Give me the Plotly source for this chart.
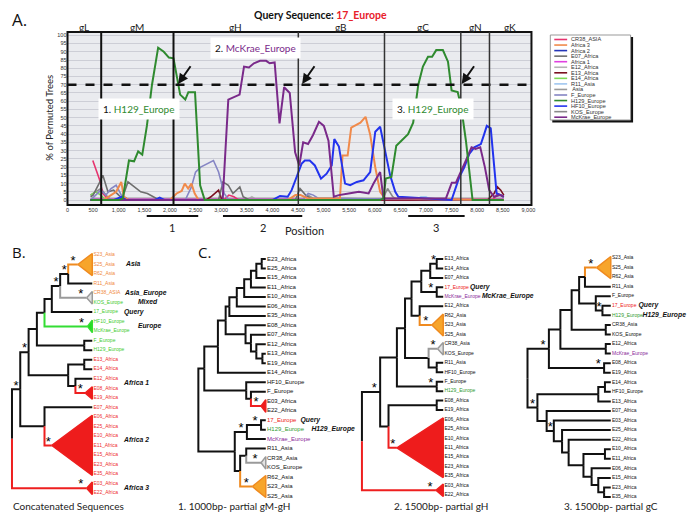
import plotly.graph_objects as go

W, H = 696, 517
OFF = 8  # page body margin that shifts the figure in the browser

# ---------------- panel A: bootscan ----------------
gene_names = ["gL", "gM", "gH", "gB", "gC", "gN", "gK"]
gene_bounds = [658, 2070, 4507, 6190, 7680, 8240]
x_max = 9060
window_spans = [(1547, 2553), (3036, 4584), (6653, 7755)]
window_names = ["1", "2", "3"]
cutoff = 70
arrow_x = [2150, 4570, 7686]

cr38_x = [494, 620, 690, 800, 3050, 3150, 3250, 3350, 8300, 8400, 8520]
cr38_y = [24, 13, 4, 0, 0, 3, 2, 0, 0, 4, 2]
afr3_x = [450, 700, 850, 950, 1050, 1100, 1200, 2000, 2130, 2230, 2290, 2356, 2420, 2484, 2560,
          4300, 4450, 4550, 4700, 5320, 5370, 5470, 5540, 5640, 5720, 5820, 5912, 6009, 6105, 6200, 8520]
afr3_y = [0, 0, 3, 5, 11, 2, 0, 0, 4, 5.5, 10, 7, 10, 4, 0,
          0, 3, 3, 1, 1, 27, 27, 44, 45.5, 47, 50.5, 39.5, 20, 5, 1, 0]
afr2_x = [450, 1000, 1100, 1200, 8520]
afr2_y = [0, 0, 2, 0, 0]
e07_x = [450, 500, 600, 690, 790, 900, 1000, 1070, 1180, 1300, 1430, 1560, 1690, 1790,
         2950, 3036, 3140, 3230, 3365, 3430, 3550, 4450, 4540, 4650, 4750, 8520]
e07_y = [2, 3, 9, 15, 5, 6, 3, 1, 11, 8, 5, 4, 2, 0,
         0, 11, 9, 4, 8, 2, 0, 0, 7, 3, 1, 0]
afr1_x = [450, 8520]
afr1_y = [0.5, 0.5]
e12_x = [450, 3500, 3600, 3700, 8520]
e12_y = [0, 0, 2, 0, 0]
e13_x = [450, 2700, 2800, 2880, 2950, 3015, 8200, 8265, 8330, 8395, 8460, 8520]
e13_y = [0, 0, 2, 4, 6, 0, 0, 2, 4, 8, 6, 3]
e14_x = [450, 550, 650, 750, 8520]
e14_y = [3, 5, 3, 0, 0]
r11_x = [450, 6800, 6900, 7000, 7100, 8520]
r11_y = [0, 0, 2, 2, 0, 0]
asia_x = [450, 4600, 4700, 4800, 8520]
asia_y = [1, 1, 3, 1, 1]
feur_x = [450, 550, 650, 750, 850, 950, 1050, 1150, 2300, 2420, 2500, 2600, 2720, 2850,
          2950, 3060, 3150, 4600, 4700, 4800, 4900, 8520]
feur_y = [0, 3, 6, 3, 7, 9, 3, 0, 0, 8, 17, 20, 22, 24, 17, 4, 0, 0, 4, 3, 1, 0]
h129_x = [450, 1000, 1080, 1200, 1300, 1380, 1460, 1550, 1650, 1770, 1880, 1980, 2070, 2200,
          2300, 2360, 2490, 2590, 2680, 6100, 6170, 6215, 6325, 6420, 6520, 6650, 6750, 6850,
          6940, 7040, 7120, 7200, 7330, 7430, 7500, 7620, 7690, 7780, 7910, 8520]
h129_y = [0, 0, 1, 24, 23.5, 29.5, 27.5, 45, 70, 92.5, 90, 86.5, 86, 64,
          61, 65.5, 65.5, 9, 0, 0, 1, 13, 14, 33, 36, 40, 47, 70,
          81, 87, 87, 91, 91, 84, 66.5, 65.5, 56, 36, 0, 0]
hf10_x = [450, 900, 1050, 1150, 1250, 1700, 1800, 1900, 4000, 4150, 4300, 4377, 4474, 4570,
          4634, 4730, 4830, 4950, 5060, 5160, 5210, 5300, 5420, 5520, 5650, 5780, 5910, 6010,
          6105, 6200, 6300, 6400, 6460, 7500, 7560, 7652, 7750, 7846, 7943, 8072, 8137, 8188,
          8265, 8330, 8380, 8460, 8520]
hf10_y = [0, 0, 2, 0, 0, 0, 1.5, 0, 0, 2.5, 2, 6, 14, 22,
          24, 24, 21, 13, 16, 21, 37, 32.5, 10, 9, 11, 12, 17, 41.5,
          44.5, 29.5, 15, 5, 2, 0, 6, 14, 20, 28, 32, 34, 40, 45,
          43.5, 23, 4, 3, 2]
kos_x = [450, 550, 650, 750, 850, 6150, 6250, 6350, 6450, 8520]
kos_y = [3, 5, 7, 3, 0, 0, 7, 2, 0, 0]
mck_x = [450, 3030, 3140, 3255, 3360, 3447, 3543, 3640, 3760, 3880, 3947, 4045, 4140, 4230,
         4340, 4445, 4525, 4602, 4698, 4795, 4910, 5006, 5096, 5200, 5300, 5490, 5690, 5880,
         5976, 6105, 6170, 7390, 7504, 7585, 7685, 7780, 7890, 7968, 8060, 8150, 8235, 8330,
         8450, 8520]
mck_y = [0, 0, 61, 62.5, 64, 81, 80.5, 83, 84.5, 84.5, 83, 83.5, 46.5, 68.5,
         65, 29, 21, 35, 34, 39.5, 47.5, 45, 36, 2, 3, 4, 5, 4,
         10, 17, 1, 1, 10.5, 10.5, 17, 24, 32, 31, 32, 20, 6, 2,
         3, 2]

legend_names = ["CR38_ASIA", "Africa 3", "Africa 2", "E07_Africa", "Africa 1", "E12_Africa",
                "E13_Africa", "E14_Africa", "R11_Asia", " Asia", "F_Europe", "H129_Europe",
                "HF10_Europe", "KOS_Europe", "McKrae_Europe"]
legend_colors = ["#e6336e", "#f08a4b", "#2536b8", "#6e6e6e", "#e040e0", "#b4b4b4",
                 "#7a1020", "#7ed957", "#9fc6f0", "#9a9a9a", "#8585c4", "#2f8a2f",
                 "#2233ee", "#8a8a8a", "#7a2a8a"]
series_xy = [(cr38_x, cr38_y), (afr3_x, afr3_y), (afr2_x, afr2_y), (e07_x, e07_y),
             (afr1_x, afr1_y), (e12_x, e12_y), (e13_x, e13_y), (e14_x, e14_y),
             (r11_x, r11_y), (asia_x, asia_y), (feur_x, feur_y), (h129_x, h129_y),
             (hf10_x, hf10_y), (kos_x, kos_y), (mck_x, mck_y)]
draw_order = [5, 9, 13, 8, 7, 4, 2, 0, 6, 3, 10, 1, 12, 14, 11]

# ---------------- panels B, C: trees ----------------


def N(d, *kids, star=False, col=None):
    return {"d": d, "kids": list(kids), "star": star, "col": col}


def T(d, leaves, col, star=False):
    return {"d": d, "tri": leaves, "star": star, "col": col}


tree_b = N(0.0,
    N(0.103,
        N(0.207,
            N(0.31,
                N(0.405,
                    N(0.496,
                        N(0.60,
                            N(0.70, T(0.82, ["S23_Asia", "S25_Asia", "R62_Asia"], "orange", star=True),
                              "R11_Asia", star=True),
                            T(0.93, ["CR38_ASIA", "KOS_Europe"], "gray", star=True),
                            star=True),
                        "17_Europe"),
                    T(0.94, ["HF10_Europe", "McKrae_Europe"], "green", star=True)),
                N(0.90, "F_Europe", "H129_Europe")),
            N(0.70,
                N(0.90, "E13_Africa", "E14_Africa"),
                N(0.79, "E12_Africa", T(0.91, ["E08_Africa", "E19_Africa"], "red", star=True))),
            star=True),
        N(0.405, "E07_Africa",
          T(0.496, ["E06_Africa", "E25_Africa", "E10_Africa", "E11_Africa", "E15_Africa",
                    "E23_Africa", "E35_Africa"], "red", star=True)),
        star=True),
    T(0.93, ["E03_Africa", "E22_Africa"], "red", star=True))

tree_c1 = N(0.0,
    N(0.088,
        N(0.29,
            N(0.405,
                N(0.46,
                    N(0.57,
                        N(0.68,
                            N(0.78,
                                N(0.86, N(0.94, "E23_Africa", "E25_Africa"), "E15_Africa"),
                                "E11_Africa"),
                            "E10_Africa"),
                        "E06_Africa"),
                    "E35_Africa"),
                N(0.70, "E08_Africa",
                  N(0.78, "E07_Africa", N(0.86, "E12_Africa", N(0.95, "E13_Africa", "E19_Africa"))))),
            "E14_Africa"),
        N(0.71, "HF10_Europe",
          N(0.78, "F_Europe", T(0.93, ["E03_Africa", "E22_Africa"], "red", star=True)))),
    N(0.54,
        N(0.72, N(0.93, "17_Europe", "H129_Europe", star=True), "McKrae_Europe", star=True),
        N(0.62,
            N(0.71, "R11_Asia", T(0.93, ["CR38_Asia", "KOS_Europe"], "gray", star=True)),
            T(0.80, ["R62_Asia", "S23_Asia", "S25_Asia"], "orange", star=True))))

tree_c2 = N(0.0,
    N(0.224,
        N(0.43,
            N(0.53,
                N(0.61,
                    N(0.73,
                        N(0.84, N(0.92, "E13_Africa", "E14_Africa", star=True), "E07_Africa"),
                        N(0.92, "17_Europe", "McKrae_Europe", star=True)),
                    N(0.71, "E12_Africa",
                      T(0.86, ["R62_Asia", "S23_Asia", "S25_Asia"], "orange", star=True))),
                N(0.82,
                  T(0.93, ["CR38_Asia", "KOS_Europe"], "gray", star=True),
                  N(0.92, "R11_Asia", "HF10_Europe"))),
            N(0.92, "F_Europe", "H129_Europe", star=True)),
        N(0.327,
          N(0.92, "E08_Africa", "E19_Africa"),
          T(0.43, ["E06_Africa", "E25_Africa", "E10_Africa", "E11_Africa", "E15_Africa",
                   "E23_Africa", "E35_Africa"], "red", star=True)),
        star=True),
    T(0.91, ["E03_Africa", "E22_Africa"], "red", star=True))

tree_c3 = N(0.0,
    N(0.257,
        N(0.395,
            N(0.53,
                N(0.62,
                    N(0.69, T(0.83, ["S23_Asia", "S25_Asia", "R62_Asia"], "orange", star=True), "R11_Asia"),
                    N(0.82, "F_Europe", N(0.90, "17_Europe", "H129_Europe", star=True))),
                N(0.94, "CR38_Asia", "KOS_Europe")),
            N(0.94, "E12_Africa", "McKrae_Europe")),
        N(0.92, "E08_Africa", "E19_Africa", star=True),
        star=True),
    N(0.119,
        N(0.85, N(0.93, "E14_Africa", "HF10_Europe"), "E13_Africa"),
        N(0.23, "E07_Africa",
          N(0.316, "E03_Africa",
            N(0.415, "E25_Africa",
              N(0.494, "E22_Africa",
                N(0.672,
                  N(0.93, "E10_Africa", "E11_Africa"),
                  N(0.77, "E06_Africa", N(0.85, "E15_Africa", N(0.92, "E23_Africa", "E35_Africa")))))),
            star=True)),
        star=True))

clade_b = [("Asia", 1, 125), ("Asia_Europe", 4, 124), ("Mixed", 5, 137), ("Query", 6, 123),
           ("Europe", 7.5, 137), ("Africa 1", 13.5, 123), ("Africa 2", 19.5, 123), ("Africa 3", 24.5, 123)]
clade_c1 = [("Query", 17, 301), ("H129_Europe", 18, 312)]
clade_c2 = [("Query", 3, 472), ("McKrae_Europe", 4, 484)]
clade_c3 = [("Query", 5, 642), ("H129_Europe", 6, 646)]

edge_col = {"orange": "#ef8a1f", "gray": "#9a9a9a", "red": "#ee1f1f", "green": "#33dd33"}
tri_fill = {"orange": "#f7a52b", "gray": "#e2e2e2", "red": "#ee1c1c", "green": "#22dd22"}
leaf_font = "Liberation Sans Narrow, Arial Narrow, Liberation Sans, Arial, sans-serif"


def fx(p):
    return (p - OFF) / W


def fy(p):
    return 1 - (p - OFF) / H


def region_color(name):
    if "Asia" in name or "ASIA" in name:
        return "#f08a3c"
    if "Europe" in name:
        return "#3fcb2f"
    return "#ee2d2d"


def focus_color(name):
    return {"17_Europe": "#ee2020", "H129_Europe": "#2f9a2f", "McKrae_Europe": "#8a2a9a"}.get(name, "#111111")


fig = go.Figure()

# bootscan lines
for i in draw_order:
    xs, ys = series_xy[i]
    wide = legend_names[i] in ("H129_Europe", "McKrae_Europe", "HF10_Europe", "Africa 3")
    fig.add_trace(go.Scatter(x=xs, y=ys, mode="lines", name=legend_names[i],
                             line={"color": legend_colors[i], "width": 2 if wide else 1.6},
                             hoverinfo="skip"))


def draw_tree(tree, root_px, tip_px, top_py, step, label_color, font_size, clades):
    segs, tris, leaves, stars = {}, [], [], []
    count = [0]

    def px(d):
        return root_px + d * (tip_px - root_px)

    def next_leaf(name):
        y = top_py + count[0] * step
        count[0] += 1
        leaves.append((name, y))
        return y

    def walk(node, parent_x):
        if isinstance(node, str):
            return tip_px, next_leaf(node)
        x = px(node["d"])
        if "tri" in node:
            ys = [next_leaf(n) for n in node["tri"]]
            y = (ys[0] + ys[-1]) / 2
            tris.append((x, ys[0], ys[-1], node["col"]))
        else:
            pos = [walk(k, x) for k in node["kids"]]
            y = (pos[0][1] + pos[-1][1]) / 2
            for k, (kx, ky) in zip(node["kids"], pos):
                c = edge_col.get(k["col"], "#111111") if isinstance(k, dict) and k["col"] else "#111111"
                sx, sy = segs.setdefault(c, ([], []))
                sx += [x, x, kx, None]
                sy += [y, ky, ky, None]
        if node["star"] and parent_x is not None:
            stars.append((x - min(6, (x - parent_x) / 2), y - 3))
        return x, y

    walk(tree, None)
    for c, (sx, sy) in segs.items():
        fig.add_trace(go.Scatter(x=sx, y=sy, mode="lines", line={"color": c, "width": 2},
                                 xaxis="x2", yaxis="y2", hoverinfo="skip"))
    for ax, y0, y1, c in tris:
        fig.add_trace(go.Scatter(x=[ax, tip_px, tip_px, ax], y=[(y0 + y1) / 2, y0 - 1.5, y1 + 1.5, (y0 + y1) / 2],
                                 mode="lines", fill="toself", fillcolor=tri_fill[c],
                                 line={"color": edge_col[c], "width": 1.5},
                                 xaxis="x2", yaxis="y2", hoverinfo="skip"))
    fig.add_trace(go.Scatter(x=[tip_px + 1.2] * len(leaves), y=[y for _, y in leaves],
                             text=[n for n, _ in leaves], mode="text", textposition="middle right",
                             textfont={"size": font_size, "color": [label_color(n) for n, _ in leaves],
                                       "family": leaf_font},
                             xaxis="x2", yaxis="y2", hoverinfo="skip"))
    fig.add_trace(go.Scatter(x=[s[0] for s in stars], y=[s[1] for s in stars], text=["*"] * len(stars),
                             mode="text", textposition="middle center",
                             textfont={"size": 13, "color": "black", "family": "Liberation Sans"},
                             xaxis="x2", yaxis="y2", hoverinfo="skip"))
    fig.add_trace(go.Scatter(x=[c[2] for c in clades], y=[top_py + c[1] * step for c in clades],
                             text=["<b><i>%s</i></b>" % c[0] for c in clades], mode="text",
                             textposition="middle right",
                             textfont={"size": 6.8, "color": "#111111", "family": "Liberation Sans, Arial"},
                             xaxis="x2", yaxis="y2", hoverinfo="skip"))


draw_tree(tree_b, 10, 91, 255, 9.52, region_color, 5.0, clade_b)
draw_tree(tree_c1, 198, 266, 259, 9.48, focus_color, 6.0, clade_c1)
draw_tree(tree_c2, 363, 445, 259, 9.44, focus_color, 5.0, clade_c2)
draw_tree(tree_c3, 530, 614, 258, 9.56, focus_color, 5.0, clade_c3)

# ---------------- layout ----------------
shapes = [
    dict(type="rect", xref="x domain", yref="y domain", x0=0, x1=1, y0=0, y1=1,
         fillcolor="#eaebef", line={"width": 0}, layer="below"),
    dict(type="line", xref="x domain", yref="y", x0=0, x1=1, y0=cutoff, y1=cutoff,
         line={"color": "#111111", "width": 2.5, "dash": "dash"}),
    dict(type="rect", xref="x domain", yref="y domain", x0=0, x1=1, y0=0, y1=1,
         line={"color": "#111111", "width": 2}),
]
for i, b in enumerate(gene_bounds):
    shapes.append(dict(type="line", xref="x", yref="y domain", x0=b, x1=b, y0=0, y1=1,
                       line={"color": "#111111" if i < 2 else "#333333", "width": 2 if i < 2 else 1.5}))
for a, b in window_spans:
    shapes.append(dict(type="line", xref="x", yref="paper", x0=a, x1=b, y0=fy(216), y1=fy(216),
                       line={"color": "#111111", "width": 2.2}))

# hand-made legend box
lx0, lx1, ly0, ly1 = 553, 634, 35, 120
shapes.append(dict(type="rect", xref="paper", yref="paper", x0=fx(lx0 + 2), x1=fx(lx1 + 2.5),
                   y0=fy(ly1 + 2.5), y1=fy(ly0 + 2), fillcolor="#111111", line={"width": 0}))
shapes.append(dict(type="rect", xref="paper", yref="paper", x0=fx(lx0), x1=fx(lx1),
                   y0=fy(ly1), y1=fy(ly0), fillcolor="white", line={"color": "#999999", "width": 1}))

annotations = []


def note(x, y, text, size, family="Lato", color="#222222", xanchor="center", xref="paper", yref="paper", **kw):
    annotations.append(dict(xref=xref, yref=yref, x=x, y=y, text=text, showarrow=False,
                            xanchor=xanchor, yanchor="middle",
                            font={"size": size, "family": family, "color": color}, **kw))


for i, (name, col) in enumerate(zip(legend_names, legend_colors)):
    ly = 39.5 + i * 5.55
    shapes.append(dict(type="line", xref="paper", yref="paper", x0=fx(557), x1=fx(570), y0=fy(ly), y1=fy(ly),
                       line={"color": col, "width": 1.6}))
    note(fx(572), fy(ly), name, 5.6, family="Liberation Sans, Arial", color="#333333", xanchor="left")

edges = [0] + gene_bounds + [x_max]
for g, a, b in zip(gene_names, edges[:-1], edges[1:]):
    note((a + b) / 2, fy(27), g, 10, xref="x")
for w, (a, b) in zip(window_names, window_spans):
    note((a + b) / 2, fy(227), w, 11, xref="x")
note(4627, fy(231), "Position", 11, xref="x")

for ax_ in arrow_x:
    annotations.append(dict(xref="x", yref="y", x=ax_, y=cutoff, ax=14, ay=-20, text="", showarrow=True,
                            arrowhead=2, arrowsize=1, arrowwidth=2, arrowcolor="#111111", standoff=1))

callouts = [("1. ", "H129_Europe", "#2f8a2f", 1394, 55), ("2. ", "McKrae_Europe", "#7a2a8a", 3678, 92),
            ("3. ", "H129_Europe", "#2f8a2f", 7144, 55)]
for num, txt, col, cx, cy in callouts:
    note(cx, cy, "%s<span style='color:%s'>%s</span>" % (num, col, txt), 10, color="#111111",
         xref="x", yref="y", bgcolor="white", borderpad=4)

note(fx(321), fy(14.5), "<b>Query Sequence: <span style='color:#e8202a'>17_Europe</span></b>", 10.5,
     color="#111111")
note(fx(48), fy(118), "% of Permuted Trees", 9.5, textangle=-90)
note(fx(8), fy(19), "A.", 17, family="Open Sans", color="#111111", xanchor="left")
note(fx(8), fy(252), "B.", 15, family="Open Sans", color="#111111", xanchor="left")
note(fx(196), fy(252), "C.", 15, family="Open Sans", color="#111111", xanchor="left")

captions = [("Concatenated Sequences", 67), ("1. 1000bp- partial gM-gH", 234),
            ("2. 1500bp- partial gH", 443), ("3. 1500bp- partial gC", 614)]
for txt, cx in captions:
    note(fx(cx), fy(506), txt, 10)

fig.update_layout(
    width=W, height=H, margin={"l": 0, "r": 0, "t": 0, "b": 0},
    paper_bgcolor="white", plot_bgcolor="rgba(0,0,0,0)", showlegend=False,
    xaxis={"domain": [fx(66), fx(534)], "range": [0, x_max], "tick0": 0, "dtick": 500, "tickformat": ",d",
           "showgrid": False, "zeroline": False, "ticks": "",
           "tickfont": {"size": 5.5, "color": "#333333", "family": "Liberation Sans, Arial"}},
    yaxis={"domain": [fy(205), fy(32)], "range": [-3, 102], "tick0": 0, "dtick": 5, "showgrid": True,
           "gridcolor": "#cdced6", "gridwidth": 0.7, "zeroline": False, "ticks": "",
           "tickfont": {"size": 5.5, "color": "#333333", "family": "Liberation Sans, Arial"}},
    xaxis2={"domain": [0, 1], "range": [OFF, W + OFF], "visible": False, "anchor": "y2"},
    yaxis2={"domain": [0, fy(240)], "range": [H + OFF, 240], "visible": False, "anchor": "x2"},
    shapes=shapes, annotations=annotations,
)

fig.write_html("out.html")
